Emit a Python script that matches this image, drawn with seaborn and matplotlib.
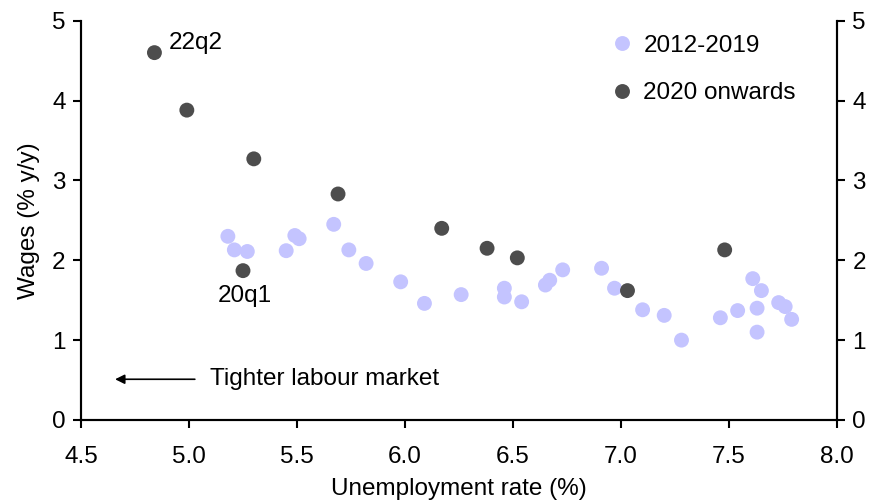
import numpy as np
import matplotlib
matplotlib.use("Agg")
import matplotlib.pyplot as plt
import pandas as pd
import seaborn as sns

# 2012-2019 quarters: unemployment rate (%), wages (% y/y)
unemp_old = [5.18, 5.21, 5.27, 5.45, 5.49, 5.51, 5.67, 5.74, 5.82, 5.98,
             6.09, 6.26, 6.46, 6.46, 6.54, 6.65, 6.67, 6.73, 6.91, 6.97,
             7.10, 7.20, 7.28, 7.46, 7.54, 7.61, 7.65, 7.63, 7.63, 7.73,
             7.76, 7.79]
wages_old = [2.30, 2.13, 2.11, 2.12, 2.31, 2.27, 2.45, 2.13, 1.96, 1.73,
             1.46, 1.57, 1.65, 1.54, 1.48, 1.69, 1.75, 1.88, 1.90, 1.65,
             1.38, 1.31, 1.00, 1.28, 1.37, 1.77, 1.62, 1.40, 1.10, 1.47,
             1.42, 1.26]

# 2020 onwards (20q1 ... 22q2)
unemp_new = [5.25, 6.52, 7.03, 7.48, 6.38, 6.17, 5.69, 5.30, 4.99, 4.84]
wages_new = [1.87, 2.03, 1.62, 2.13, 2.15, 2.40, 2.83, 3.27, 3.88, 4.60]

series = ["2012-2019", "2020 onwards"]
colours = ["#C4C4FF", "#4D4D4D"]

df = pd.DataFrame({
    "unemp": unemp_old + unemp_new,
    "wages": wages_old + wages_new,
    "period": [series[0]] * len(unemp_old) + [series[1]] * len(unemp_new),
})

sns.set_style("white")
plt.rcParams["font.family"] = ["Liberation Sans", "DejaVu Sans"]
plt.rcParams["text.color"] = "black"
plt.rcParams["axes.labelcolor"] = "black"
plt.rcParams["xtick.color"] = "black"
plt.rcParams["ytick.color"] = "black"
fs = 17.5

fig = plt.figure(figsize=(8.91, 5.01), dpi=100)
ax = fig.add_axes([0.0909, 0.1617, 0.8485, 0.797])

sns.scatterplot(data=df, x="unemp", y="wages", hue="period",
                palette=dict(zip(series, colours)), s=115, linewidth=0,
                ax=ax, zorder=3)

ax.set_xlim(4.5, 8.0)
ax.set_ylim(0, 5)
ax.set_xticks(np.arange(4.5, 8.01, 0.5))
ax.set_xticklabels([f"{v:.1f}" for v in np.arange(4.5, 8.01, 0.5)])
ax.set_yticks(range(0, 6))
ax.set_xlabel("Unemployment rate (%)", fontsize=fs, labelpad=7)
ax.set_ylabel("Wages (% y/y)", fontsize=fs, labelpad=9)
ax.tick_params(axis="both", labelsize=fs, direction="out", length=6,
               width=1.5, left=True, bottom=True)
ax.tick_params(axis="x", pad=13)
ax.tick_params(axis="y", pad=5)

ax2 = ax.twinx()
ax2.set_ylim(0, 5)
ax2.set_yticks(range(0, 6))
ax2.tick_params(axis="y", labelsize=fs, direction="out", length=6,
                width=1.5, right=True, pad=5)

for a in (ax, ax2):
    a.spines["top"].set_visible(False)
    for side in ("left", "right", "bottom"):
        a.spines[side].set_color("black")
        a.spines[side].set_linewidth(1.5)

leg = ax.legend(loc="upper left", bbox_to_anchor=(0.654, 1.02), frameon=False,
                fontsize=fs, handletextpad=-0.1, labelspacing=1.05,
                markerscale=1.0)

ax.text(4.905, 4.65, "22q2", fontsize=fs, va="baseline", ha="left")
ax.text(5.134, 1.48, "20q1", fontsize=fs, va="baseline", ha="left")

ax.annotate("", xy=(4.645, 0.51), xytext=(5.04, 0.51),
            arrowprops=dict(arrowstyle="-|>", color="black", lw=1.2,
                            mutation_scale=14))
ax.text(5.095, 0.44, "Tighter labour market", fontsize=fs, va="baseline",
        ha="left")

fig.savefig("out.png", dpi=100)
